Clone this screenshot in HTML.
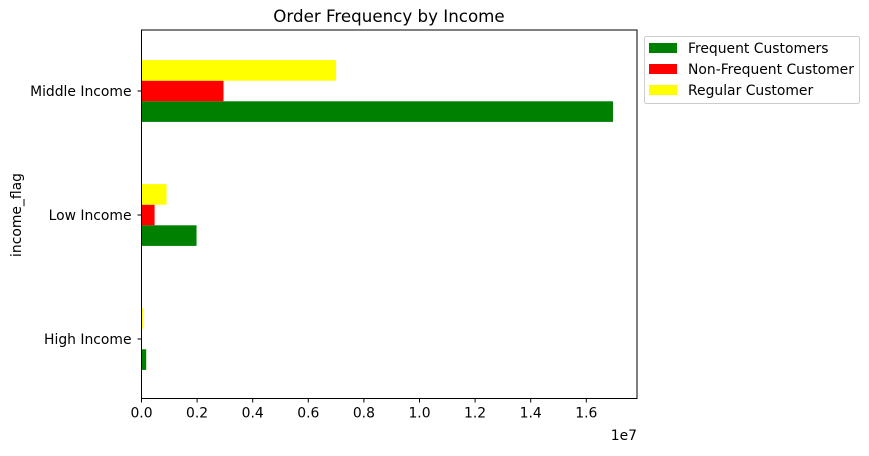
<!DOCTYPE html>
<html><head><meta charset="utf-8"><style>
body{margin:0;background:#fff}
svg text{font-family:"DejaVu Sans","Liberation Sans",sans-serif;fill:#000}
</style></head><body>
<svg id="chart" width="869" height="451" viewBox="0 0 869 451" xmlns="http://www.w3.org/2000/svg">
<text x="389" y="22" font-size="16.7" text-anchor="middle">Order Frequency by Income</text>
<g id="bars"></g>
<g id="axes"></g>
<text transform="translate(21,215) rotate(-90)" font-size="13.9" text-anchor="middle">income_flag</text>
<text x="637" y="440" font-size="13.9" text-anchor="end">1e7</text>
<g>
<rect x="644.5" y="36.5" width="215" height="67" rx="2" fill="#fff" stroke="#ccc"/>
<rect x="649" y="43" width="28" height="10" fill="green"/>
<text x="688" y="53" font-size="13.9">Frequent Customers</text>
<rect x="649" y="64" width="28" height="10" fill="red"/>
<text x="688" y="74" font-size="13.9">Non-Frequent Customer</text>
<rect x="649" y="85" width="28" height="10" fill="yellow"/>
<text x="688" y="95" font-size="13.9">Regular Customer</text>
</g>
</svg>
<script>
const categories=["High Income","Low Income","Middle Income"];
const frequent=[0.017,0.198,1.696];
const nonFrequent=[0.001,0.047,0.295];
const regular=[0.005,0.09,0.70];
const xTicks=[0,0.2,0.4,0.6,0.8,1.0,1.2,1.4,1.6];
const ns="http://www.w3.org/2000/svg";
const X0=141.5,PX=278,TOP=30,BOT=398.5,RIGHT=637;
const x=v=>X0+v*PX;
const catY=i=>339-i*124;
const BH=20.6;
function mk(t,a,p){const e=document.createElementNS(ns,t);for(const k in a)e.setAttribute(k,a[k]);p.appendChild(e);return e;}
const bars=document.getElementById('bars'),axes=document.getElementById('axes');
const series=[[frequent,'green','frequent'],[nonFrequent,'red','nonfrequent'],[regular,'yellow','regular']];
categories.forEach((c,i)=>{
  series.forEach(([arr,col,nm],j)=>{
    const yTop=catY(i)+BH*1.5-BH*(j+1);
    const r=mk('rect',{x:X0,y:yTop,width:Math.max(0,x(arr[i])-X0),height:BH,fill:col},bars);
    
    
  });
  mk('line',{x1:X0-4,x2:X0,y1:catY(i),y2:catY(i),stroke:'#000'},axes);
  const t=mk('text',{x:X0-10,y:catY(i)+5,'font-size':13.9,'text-anchor':'end'},axes);
  t.textContent=c;
  
  
});
xTicks.forEach(v=>{
  mk('line',{x1:x(v),x2:x(v),y1:BOT,y2:BOT+4,stroke:'#000'},axes);
  const t=mk('text',{x:x(v),y:BOT+19,'font-size':13.9,'text-anchor':'middle'},axes);
  t.textContent=v.toFixed(1);
  
  
});
mk('rect',{x:X0,y:TOP,width:RIGHT-X0,height:BOT-TOP,fill:'none',stroke:'#000','stroke-width':1},axes);
</script>
</body></html>
